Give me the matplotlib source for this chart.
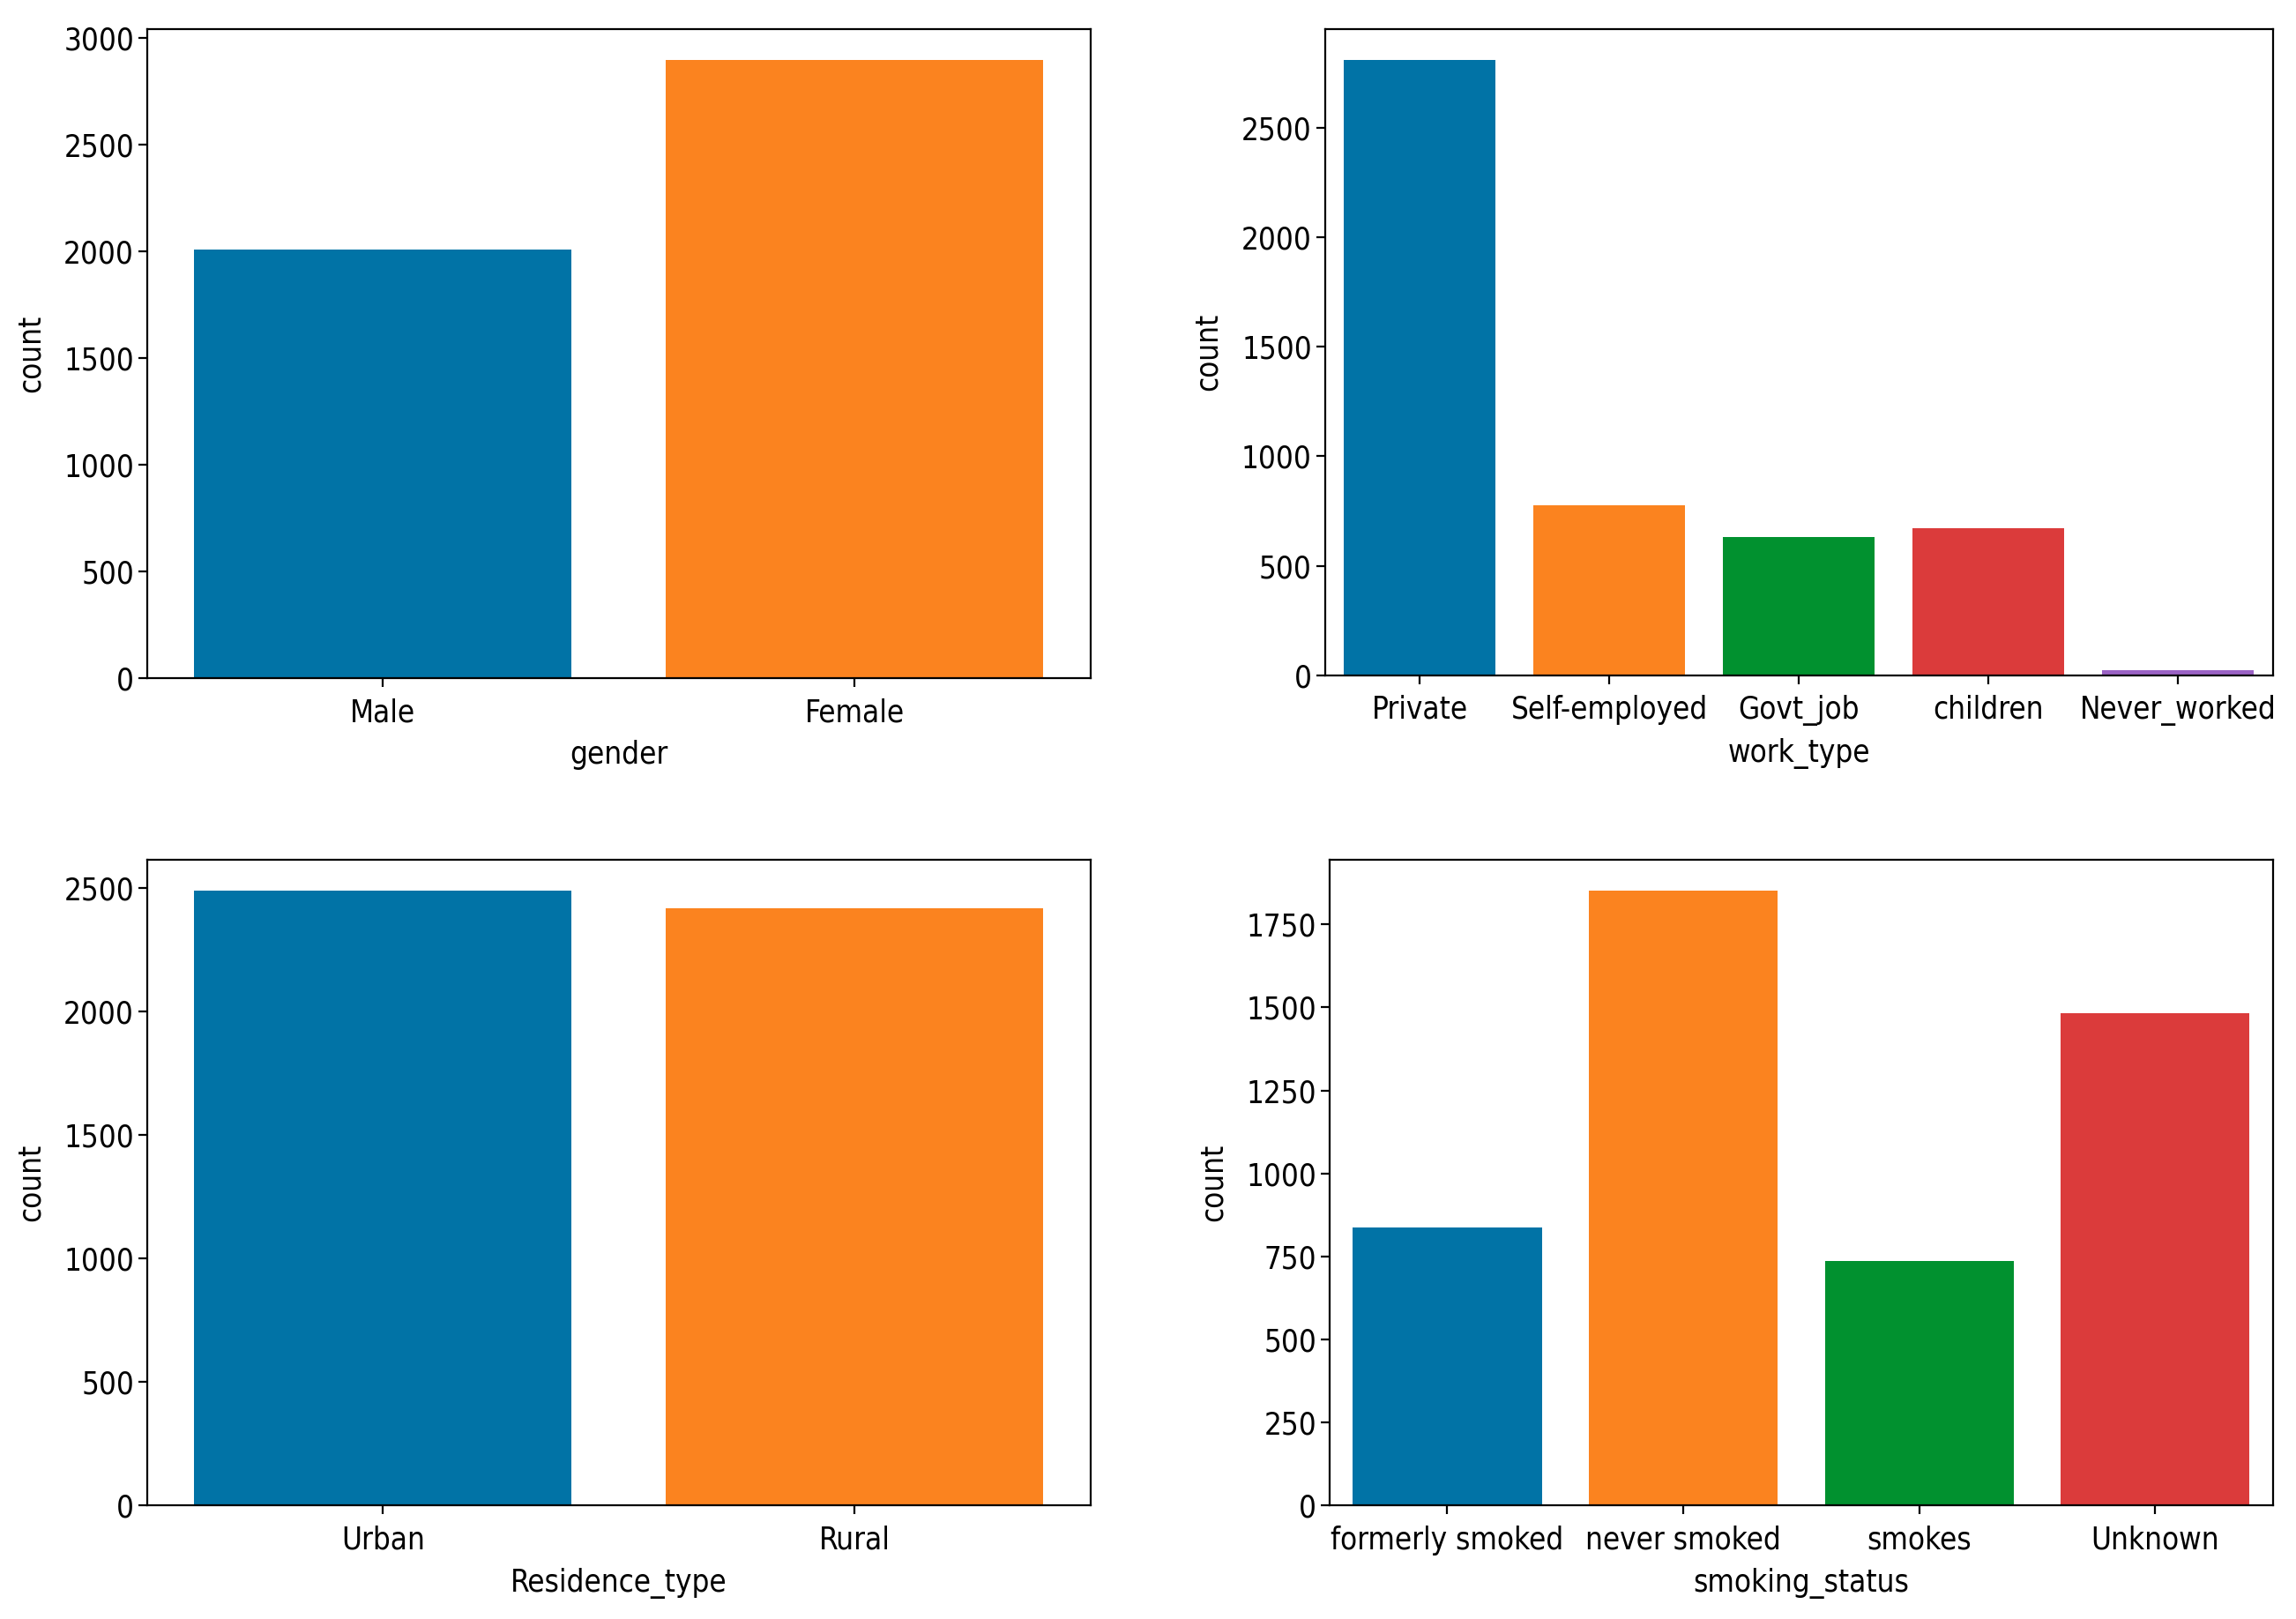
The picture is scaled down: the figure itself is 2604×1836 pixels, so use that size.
"""
Count plots of the categorical columns in the stroke data.
"""
import matplotlib
matplotlib.use('Agg')
import matplotlib.pyplot as plt

# counts
gender_cats = ['Male', 'Female']
gender_counts = [2011, 2897]

work_cats = ['Private', 'Self-employed', 'Govt_job', 'children', 'Never_worked']
work_counts = [2811, 775, 630, 671, 22]

res_cats = ['Urban', 'Rural']
res_counts = [2490, 2419]

smoke_cats = ['formerly smoked', 'never smoked', 'smokes', 'Unknown']
smoke_counts = [837, 1852, 737, 1483]

colors = ['#0173a6', '#fb831f', '#01912f', '#db3b3b', '#9a62c4']

fs = 25

plt.rcParams['font.family'] = 'DejaVu Sans'
plt.rcParams['font.stretch'] = 'condensed'
plt.rcParams['font.size'] = fs
plt.rcParams['axes.linewidth'] = 1.6
plt.rcParams['xtick.major.width'] = 1.6
plt.rcParams['ytick.major.width'] = 1.6
plt.rcParams['xtick.major.size'] = 7
plt.rcParams['ytick.major.size'] = 7
plt.rcParams['xtick.major.pad'] = 9

fig = plt.figure(figsize=(26.04, 18.36), dpi=100)

# axes boxes [left, bottom, width, height] in figure fractions
boxes = [
    [0.064, 0.581, 0.411, 0.401],
    [0.577, 0.583, 0.413, 0.399],
    [0.064, 0.070, 0.411, 0.399],
    [0.579, 0.070, 0.411, 0.399],
]
panels = [
    (gender_cats, gender_counts, 'gender'),
    (work_cats, work_counts, 'work_type'),
    (res_cats, res_counts, 'Residence_type'),
    (smoke_cats, smoke_counts, 'smoking_status'),
]

for box, (cats, counts, name) in zip(boxes, panels):
    ax = fig.add_axes(box)
    x = list(range(len(cats)))
    ax.bar(x, counts, width=0.8, color=colors[:len(cats)])
    ax.set_xlim(-0.5, len(cats) - 0.5)
    ax.set_xticks(x)
    ax.set_xticklabels(cats, fontsize=fs)
    ax.tick_params(axis='y', labelsize=fs)
    ax.set_xlabel(name, fontsize=fs, labelpad=10)
    ax.set_ylabel('count', fontsize=fs, labelpad=15)

fig.savefig('out.png', dpi=100)
